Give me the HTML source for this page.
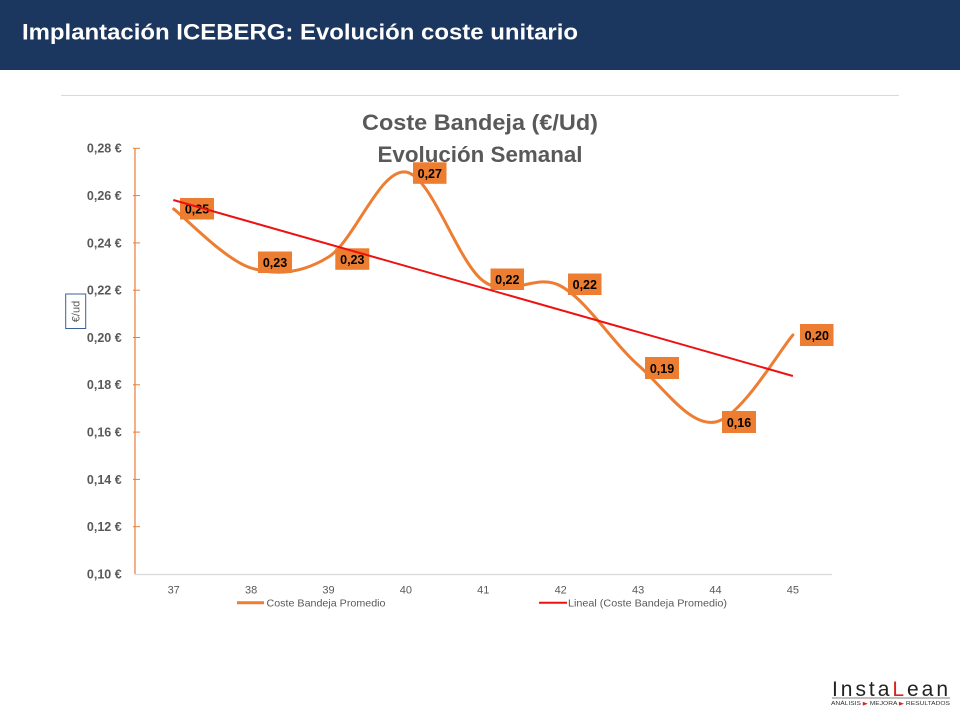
<!DOCTYPE html>
<html><head><meta charset="utf-8"><style>
html,body{margin:0;padding:0;background:#fff;}
svg{display:block;}
text{font-family:"Liberation Sans",Arial,sans-serif;}
</style></head><body>
<svg width="960" height="720" viewBox="0 0 960 720" xmlns="http://www.w3.org/2000/svg">
<rect x="0" y="0" width="960" height="720" fill="#ffffff"/>
<rect x="0" y="0" width="960" height="70" fill="#1b375f"/>
<text x="22" y="39.5" font-size="22" font-weight="bold" fill="#ffffff" textLength="556" lengthAdjust="spacingAndGlyphs">Implantación ICEBERG: Evolución coste unitario</text>
<line x1="61" y1="95.5" x2="899" y2="95.5" stroke="#d9d9d9" stroke-width="1"/>

<text x="480" y="130" font-size="22" font-weight="bold" fill="#595959" text-anchor="middle" textLength="236" lengthAdjust="spacingAndGlyphs">Coste Bandeja (€/Ud)</text>
<text x="480" y="162" font-size="22" font-weight="bold" fill="#595959" text-anchor="middle" textLength="205" lengthAdjust="spacingAndGlyphs">Evolución Semanal</text>

<!-- y axis -->
<line x1="135" y1="148" x2="135" y2="574" stroke="#ED7D31" stroke-width="1.2"/>
<g stroke="#ED7D31" stroke-width="1">
<line x1="133" y1="148.3" x2="140" y2="148.3"/>
<line x1="133" y1="195.6" x2="140" y2="195.6"/>
<line x1="133" y1="242.9" x2="140" y2="242.9"/>
<line x1="133" y1="290.2" x2="140" y2="290.2"/>
<line x1="133" y1="337.5" x2="140" y2="337.5"/>
<line x1="133" y1="384.8" x2="140" y2="384.8"/>
<line x1="133" y1="432.1" x2="140" y2="432.1"/>
<line x1="133" y1="479.4" x2="140" y2="479.4"/>
<line x1="133" y1="526.7" x2="140" y2="526.7"/>
</g>
<g font-size="12.5" font-weight="bold" fill="#595959" text-anchor="end">
<text x="121.7" y="152.7">0,28 €</text>
<text x="121.7" y="200">0,26 €</text>
<text x="121.7" y="247.3">0,24 €</text>
<text x="121.7" y="294.6">0,22 €</text>
<text x="121.7" y="341.9">0,20 €</text>
<text x="121.7" y="389.2">0,18 €</text>
<text x="121.7" y="436.5">0,16 €</text>
<text x="121.7" y="483.8">0,14 €</text>
<text x="121.7" y="531.1">0,12 €</text>
<text x="121.7" y="578.4">0,10 €</text>
</g>

<!-- y axis title -->
<rect x="65.7" y="294" width="20" height="34.5" fill="#fff" stroke="#3a5f9a" stroke-width="1"/>
<text transform="translate(79.5,311.5) rotate(-90)" font-size="11" fill="#595959" text-anchor="middle">€/ud</text>

<!-- x axis -->
<line x1="135" y1="574.5" x2="832" y2="574.5" stroke="#d9d9d9" stroke-width="1.2"/>
<g font-size="11" fill="#595959" text-anchor="middle">
<text x="173.7" y="593.3">37</text>
<text x="251.1" y="593.3">38</text>
<text x="328.5" y="593.3">39</text>
<text x="405.9" y="593.3">40</text>
<text x="483.3" y="593.3">41</text>
<text x="560.7" y="593.3">42</text>
<text x="638.1" y="593.3">43</text>
<text x="715.5" y="593.3">44</text>
<text x="792.9" y="593.3">45</text>
</g>

<!-- smoothed series -->
<path d="M173.7,209 C186.6,218.8 225.3,260 251.1,268 C276.9,276 302.7,273 328.5,257 C354.3,241 380.1,168 405.9,172 C431.7,176 457.5,262 483.3,281 C509.1,300 534.9,272 560.7,286 C586.5,300 612.3,342.3 638.1,365 C663.9,387.7 689.7,427 715.5,422 C741.3,417 780,349.5 792.9,335" fill="none" stroke="#ED7D31" stroke-width="3" stroke-linecap="round"/>

<!-- data labels -->
<g fill="#ED7D31">
<rect x="180" y="198" width="34" height="21.5"/>
<rect x="258" y="251.5" width="34" height="21.5"/>
<rect x="335.3" y="248.3" width="34" height="21.5"/>
<rect x="413" y="162.3" width="33.5" height="21.5"/>
<rect x="490.5" y="268.5" width="33.5" height="21.5"/>
<rect x="568" y="273.5" width="33.5" height="21.5"/>
<rect x="645" y="357" width="34" height="22"/>
<rect x="722" y="411" width="34" height="22"/>
<rect x="800" y="324" width="33.5" height="22"/>
</g>
<g font-size="12.5" font-weight="bold" fill="#000" text-anchor="middle">
<text x="197" y="213.5">0,25</text>
<text x="275" y="267">0,23</text>
<text x="352.3" y="263.8">0,23</text>
<text x="429.8" y="177.8">0,27</text>
<text x="507.3" y="284">0,22</text>
<text x="584.8" y="289">0,22</text>
<text x="662" y="372.8">0,19</text>
<text x="739" y="426.8">0,16</text>
<text x="816.8" y="339.8">0,20</text>
</g>

<!-- trend line -->
<line x1="173.3" y1="200" x2="792.9" y2="376" stroke="#ee1111" stroke-width="2"/>

<!-- legend -->
<line x1="237" y1="602.7" x2="264" y2="602.7" stroke="#ED7D31" stroke-width="3"/>
<text x="266.5" y="606.3" font-size="10.5" fill="#595959" textLength="119" lengthAdjust="spacingAndGlyphs">Coste Bandeja Promedio</text>
<line x1="539" y1="602.7" x2="567" y2="602.7" stroke="#ee1111" stroke-width="2"/>
<text x="568" y="606.3" font-size="10.5" fill="#595959" textLength="159" lengthAdjust="spacingAndGlyphs">Lineal (Coste Bandeja Promedio)</text>

<!-- logo -->
<text x="832" y="696" font-size="21" fill="#222" textLength="116" lengthAdjust="spacing">Insta<tspan fill="#d9261c">L</tspan>ean</text>
<line x1="832" y1="698" x2="950" y2="698" stroke="#555" stroke-width="0.8"/>
<text x="831" y="705" font-size="5" fill="#333" textLength="119" lengthAdjust="spacingAndGlyphs">ANÁLISIS <tspan fill="#d9261c">▶</tspan> MEJORA <tspan fill="#d9261c">▶</tspan> RESULTADOS</text>
</svg>
</body></html>
